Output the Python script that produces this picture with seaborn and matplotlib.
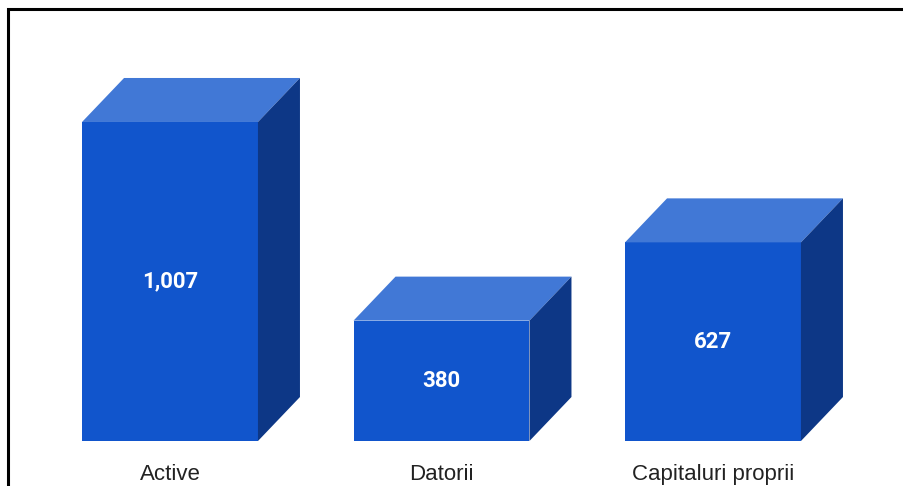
import numpy as np
import pandas as pd
import seaborn as sns
import matplotlib.pyplot as plt
from matplotlib.patches import Polygon, Rectangle

# date
categorii = ["Active", "Datorii", "Capitaluri proprii"]
valori = [1007, 380, 627]
etichete = ["1,007", "380", "627"]

# culori pentru fetele cutiei
fata = "#1155CC"
sus = "#4178D6"
lateral = "#0D3786"

df = pd.DataFrame({"categorie": categorii, "valoare": valori})

sns.set_style("white")
plt.rcParams["font.family"] = ["Liberation Sans", "DejaVu Sans"]

fig = plt.figure(figsize=(9.04, 4.86), dpi=100)
ax = fig.add_axes([0, 45 / 486, 1, 441 / 486])
sns.barplot(data=df, x="categorie", y="valoare", color=fata, saturation=1,
            width=0.648, linewidth=0, edgecolor="none", ax=ax)
ax.set_xlim(-170 / 271.5, (904 - 170) / 271.5)
ax.set_ylim(0, 441 / 0.3168)

# adancimea "3D" in pixeli
dx, dy = 42, 44
inv = ax.transData.inverted()
for p, et in zip(ax.patches, etichete):
    x0, w, h = p.get_x(), p.get_width(), p.get_height()
    a = ax.transData.transform([(x0, h), (x0 + w, h), (x0 + w, 0)])
    top = [a[0], a[1], a[1] + [dx, dy], a[0] + [dx, dy]]
    side = [a[2], a[1], a[1] + [dx, dy], a[2] + [dx, dy]]
    ax.add_patch(Polygon(inv.transform(top), closed=True, fc=sus, ec="none", zorder=3))
    ax.add_patch(Polygon(inv.transform(side), closed=True, fc=lateral, ec="none", zorder=3))
    ax.text(x0 + w / 2, h / 2, et, ha="center", va="center", color="white",
            fontsize=16, fontweight="bold", family=["Roboto", "DejaVu Sans"], zorder=4)

ax.tick_params(axis="x", length=0, pad=16.5, labelsize=16, labelcolor="#222222")
ax.set_yticks([])
ax.set_xlabel("")
ax.set_ylabel("")
sns.despine(ax=ax, left=True, bottom=True)

# chenar negru
fig.add_artist(Rectangle((8 / 904, -0.5), 2, (486 - 9) / 486 + 0.5,
                         transform=fig.transFigure, fill=False, ec="black", lw=2.2))

fig.savefig("out.png", dpi=100)
